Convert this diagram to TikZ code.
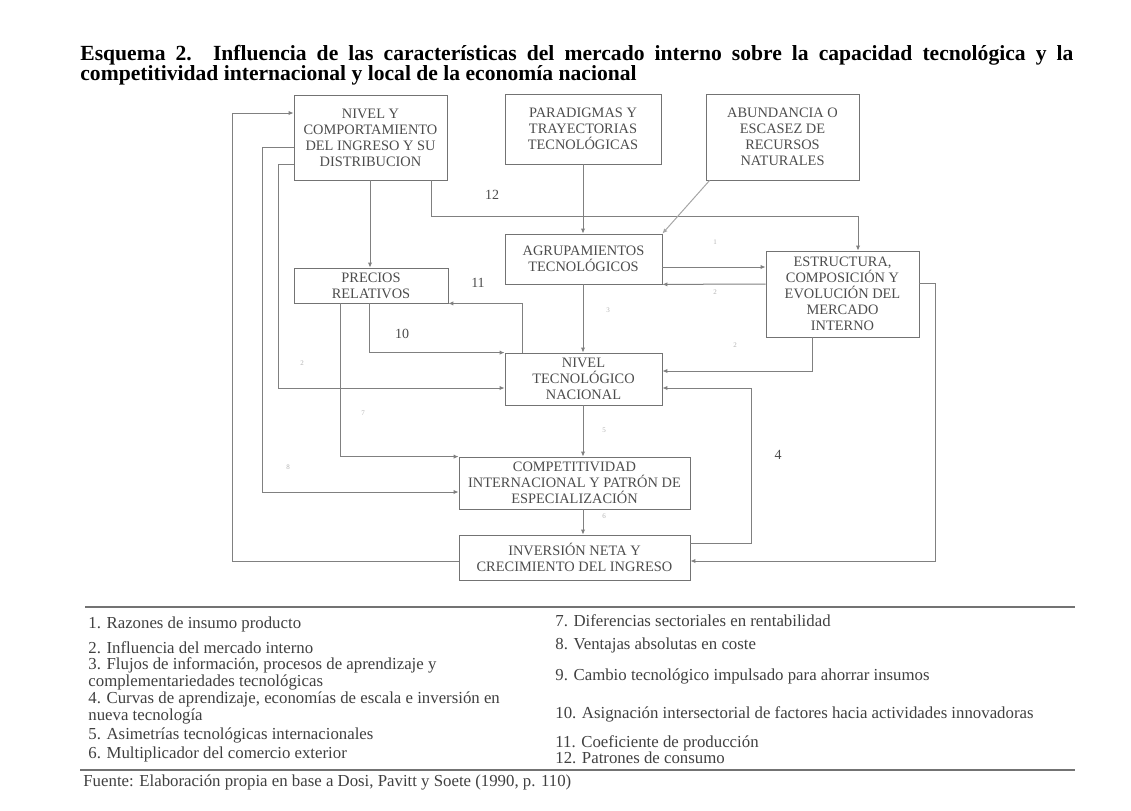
\documentclass[tikz,border=0pt]{standalone}
\usepackage{fontspec}
\setmainfont{Liberation Serif}
\usetikzlibrary{arrows.meta}

\begin{document}
\begin{tikzpicture}[
  x=0.5pt, y=-0.5pt,
  box/.style={draw=black!55, align=center, inner sep=0pt, text=black!70,
              font=\fontsize{7.2}{8}\selectfont},
  arr/.style={draw=black!50, line width=0.5pt, -{Latex[length=2.5pt,width=2.2pt]}},
  num/.style={inner sep=0pt, text=black!70, font=\fontsize{7}{8}\selectfont},
  tinynum/.style={inner sep=0pt, text=black!30, font=\fontsize{3.5}{4}\selectfont},
  legend/.style={anchor=west, align=left, inner sep=0pt, text=black!75,
                 font=\fontsize{8.4}{8.5}\selectfont}
]
\useasboundingbox (0,0) rectangle (1131,810);

% titulo
\node[anchor=north west, inner sep=0pt, text width=496.5pt, align=justify,
      font=\fontsize{10.8}{10}\selectfont\bfseries] (titulo) at (80,45)
  {\lineskiplimit=-5pt Esquema 2. Influencia de las características del mercado interno sobre la capacidad tecnológica y la\linebreak competitividad internacional y local de la economía nacional};

% cajas
\node[box, minimum width=76.5pt, minimum height=42.5pt] (ingreso) at (370.5,137.5) {NIVEL Y\\COMPORTAMIENTO\\DEL INGRESO Y SU\\DISTRIBUCION};
\node[box, minimum width=78pt, minimum height=35pt] (paradigmas) at (583,129) {PARADIGMAS Y\\TRAYECTORIAS\\TECNOLÓGICAS};
\node[box, minimum width=76.5pt, minimum height=43pt] (recursos) at (782.5,137) {ABUNDANCIA O\\ESCASEZ DE\\RECURSOS\\NATURALES};
\node[box, minimum width=78.5pt, minimum height=25pt] (agrupam) at (583.5,259) {AGRUPAMIENTOS\\TECNOLÓGICOS};
\node[box, minimum width=76.5pt, minimum height=43pt] (estructura) at (842.5,294) {ESTRUCTURA,\\COMPOSICIÓN Y\\EVOLUCIÓN DEL\\MERCADO\\INTERNO};
\node[box, minimum width=77pt, minimum height=17.5pt] (precios) at (371,285.5) {PRECIOS\\RELATIVOS};
\node[box, minimum width=78.5pt, minimum height=26pt] (nivtec) at (583.5,379) {NIVEL\\TECNOLÓGICO\\NACIONAL};
\node[box, minimum width=115.5pt, minimum height=26pt] (compet) at (574.5,483) {COMPETITIVIDAD\\INTERNACIONAL Y PATRÓN DE\\ESPECIALIZACIÓN};
\node[box, minimum width=115.5pt, minimum height=22.5pt] (inversion) at (574.5,557.5) {INVERSIÓN NETA Y\\CRECIMIENTO DEL INGRESO};

% conexiones por la izquierda
\draw[arr] (inversion.west |- 0,561) -- ++(-226,0) |- (ingreso.west |- 0,113);
\draw[arr] (ingreso.west |- 0,147) -- ++(-31,0) |- (compet.west |- 0,492);
\draw[arr] (ingreso.west |- 0,164) -- ++(-15,0) |- (nivtec.west |- 0,388);
\draw[arr] (ingreso.south -| 370,0) -- (precios.north -| 370,0);
\draw[arr] (ingreso.south -| 431,0) |- (858,216) -- (estructura.north -| 858,0);
\node[num] (n12) at (492,195) {12};

% conexiones del centro
\draw[arr] (paradigmas.south) -- (paradigmas.south |- agrupam.north);
\draw[arr, draw=black!35] ([xshift=2pt]recursos.south west) -- (agrupam.north east);
\draw[arr] (agrupam.east |- 0,267) -- (estructura.west |- 0,267);
\draw[arr] (estructura.west |- 0,284) -- (agrupam.south east);
\draw[arr] (agrupam.south -| 583,0) -- (nivtec.north -| 583,0);
\draw[arr] (nivtec.north -| 522,0) |- (precios.south east);
\node[num] (n11) at (478,283) {11};
\draw[arr] (precios.south -| 369,0) |- (nivtec.north west);
\node[num] (n10) at (402,334) {10};
\draw[arr] (precios.south -| 340,0) |- (compet.north west);
\draw[arr] (estructura.south -| 812,0) |- (nivtec.east |- 0,371);
\draw[arr] (nivtec.south -| 583,0) -- (compet.north -| 583,0);
\draw[arr] (compet.south -| 583,0) -- (inversion.north -| 583,0);

% conexiones por la derecha
\draw[arr] (inversion.east |- 0,543) -| (751,388) -- (nivtec.east |- 0,388);
\node[num] (n4) at (778,455) {4};
\draw[arr] (estructura.east |- 0,283) -| (935,561) -- (inversion.east |- 0,561);

% numeros pequenos
\node[tinynum] (t1) at (715,242) {1};
\node[tinynum] (t2) at (715,292) {2};
\node[tinynum] (t3) at (608,310) {3};
\node[tinynum] (t2b) at (735,345) {2};
\node[tinynum] (t2c) at (302,363) {2};
\node[tinynum] (t7) at (363,413) {7};
\node[tinynum] (t8) at (288,467) {8};
\node[tinynum] (t5) at (604,430) {5};
\node[tinynum] (t6) at (604,516) {6};

% leyenda
\draw[black!55, line width=0.6pt] (85,607) -- (1075,607);
\draw[black!55, line width=0.6pt] (80,770) -- (1075,770);
\node[legend] (leg1) at (88,624) {1. Razones de insumo producto};
\node[legend] (leg2) at (88,648) {2. Influencia del mercado interno};
\node[legend] (leg3) at (88,673.5) {3. Flujos de información, procesos de aprendizaje y\\complementariedades tecnológicas};
\node[legend] (leg4) at (88,708) {4. Curvas de aprendizaje, economías de escala e inversión en\\nueva tecnología};
\node[legend] (leg5) at (88,735) {5. Asimetrías tecnológicas internacionales};
\node[legend] (leg6) at (88,754) {6. Multiplicador del comercio exterior};
\node[legend] (leg7) at (555,621) {7. Diferencias sectoriales en rentabilidad};
\node[legend] (leg8) at (555,645) {8. Ventajas absolutas en coste};
\node[legend] (leg9) at (555,676) {9. Cambio tecnológico impulsado para ahorrar insumos};
\node[legend] (leg10) at (555,714) {10. Asignación intersectorial de factores hacia actividades innovadoras};
\node[legend] (leg11) at (555,743) {11. Coeficiente de producción};
\node[legend] (leg12) at (555,758) {12. Patrones de consumo};
\node[legend] (fuente) at (83,782) {Fuente: Elaboración propia en base a Dosi, Pavitt y Soete (1990, p. 110)};
\end{tikzpicture}
\end{document}
